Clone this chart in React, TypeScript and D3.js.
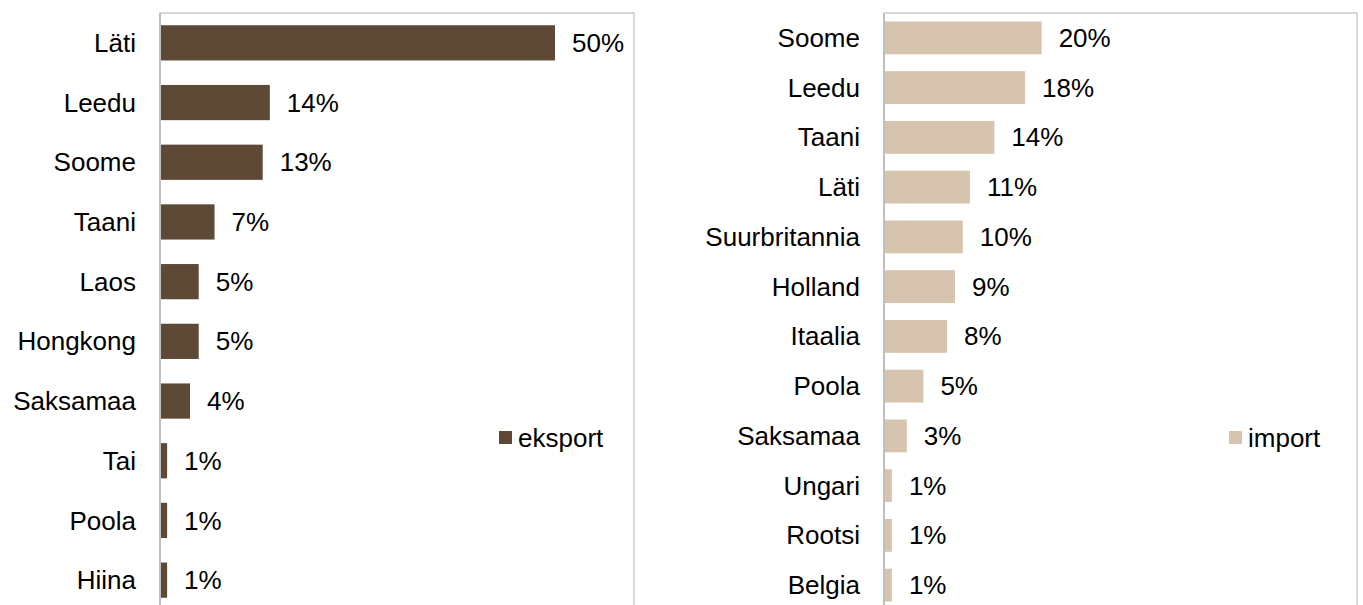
import React, { useEffect, useRef } from 'react';
import * as d3 from 'd3';

const exportCountries = ['Läti', 'Leedu', 'Soome', 'Taani', 'Laos', 'Hongkong', 'Saksamaa', 'Tai', 'Poola', 'Hiina'];
const exportShares = [50.0, 13.9, 13.0, 6.9, 4.9, 4.9, 3.8, 0.9, 0.9, 0.9];

const importCountries = ['Soome', 'Leedu', 'Taani', 'Läti', 'Suurbritannia', 'Holland', 'Itaalia', 'Poola', 'Saksamaa', 'Ungari', 'Rootsi', 'Belgia'];
const importShares = [20.0, 17.9, 14.0, 10.9, 10.0, 9.0, 8.0, 5.0, 2.9, 1.0, 1.0, 1.0];

const WIDTH = 1363;
const HEIGHT = 605;
const FONT = '"Liberation Sans", Arial, sans-serif';
const FONT_SIZE = 26;

const App = () => {
  const svgRef = useRef<SVGSVGElement>(null);

  useEffect(() => {
    document.body.style.margin = '0';
    const svg = d3.select(svgRef.current);
    svg.selectAll('*').remove();

    const drawPanel = (
      cats: string[],
      vals: number[],
      left: number,
      right: number,
      padding: number,
      color: string,
      legendX: number,
      legendName: string
    ) => {
      const top = 13;
      const bottom = 610;

      const x = d3.scaleLinear().domain([0, 60]).range([left, right]);
      const y = d3.scaleBand().domain(cats).range([top, bottom]).paddingInner(padding).paddingOuter(padding / 2);

      const g = svg.append('g');

      // plot area border
      g.append('rect')
        .attr('x', left)
        .attr('y', top)
        .attr('width', right - left)
        .attr('height', bottom - top)
        .attr('fill', 'none')
        .attr('stroke', '#bfbfbf')
        .attr('stroke-width', 1.2);

      g.selectAll('rect.bar')
        .data(vals)
        .enter()
        .append('rect')
        .attr('class', 'bar')
        .attr('x', x(0))
        .attr('y', (d, i) => y(cats[i]) as number)
        .attr('width', d => x(d) - x(0))
        .attr('height', y.bandwidth())
        .attr('fill', color);

      // axis line
      g.append('line')
        .attr('x1', left)
        .attr('x2', left)
        .attr('y1', top)
        .attr('y2', bottom)
        .attr('stroke', '#bfbfbf')
        .attr('stroke-width', 2);

      // category labels
      g.selectAll('text.cat')
        .data(cats)
        .enter()
        .append('text')
        .attr('class', 'cat')
        .attr('x', left - 24)
        .attr('y', d => (y(d) as number) + y.bandwidth() / 2)
        .attr('dy', '0.35em')
        .attr('text-anchor', 'end')
        .attr('font-family', FONT)
        .attr('font-size', FONT_SIZE)
        .attr('fill', '#000')
        .text(d => d);

      // value labels
      const fmt = d3.format('.0f');
      g.selectAll('text.val')
        .data(vals)
        .enter()
        .append('text')
        .attr('class', 'val')
        .attr('x', d => x(d) + 17)
        .attr('y', (d, i) => (y(cats[i]) as number) + y.bandwidth() / 2)
        .attr('dy', '0.35em')
        .attr('font-family', FONT)
        .attr('font-size', FONT_SIZE)
        .attr('fill', '#000')
        .text(d => fmt(d) + '%');

      // legend
      g.append('rect')
        .attr('x', legendX)
        .attr('y', 431)
        .attr('width', 13)
        .attr('height', 13)
        .attr('fill', color);
      g.append('text')
        .attr('x', legendX + 19)
        .attr('y', 438)
        .attr('dy', '0.35em')
        .attr('font-family', FONT)
        .attr('font-size', FONT_SIZE)
        .attr('fill', '#000')
        .text(legendName);
    };

    drawPanel(exportCountries, exportShares, 160, 634, 0.41, '#5e4937', 499, 'eksport');
    drawPanel(importCountries, importShares, 884, 1357, 0.34, '#d7c4ae', 1229, 'import');
  }, []);

  return <svg ref={svgRef} width={WIDTH} height={HEIGHT} style={{ display: 'block', background: '#fff' }}></svg>;
};

export default App;
